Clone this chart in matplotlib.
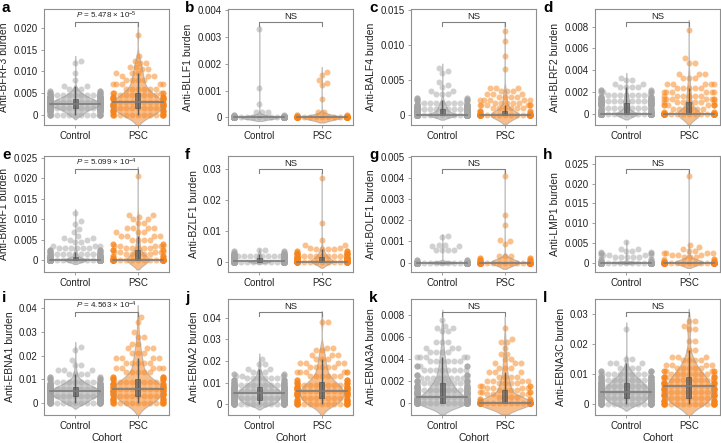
import warnings
import numpy as np
import pandas as pd
import matplotlib
matplotlib.use('Agg')
import matplotlib.pyplot as plt
import matplotlib.transforms as mtransforms
from matplotlib.patches import Rectangle
import seaborn as sns

warnings.filterwarnings('ignore')

plt.rcParams['font.family'] = ['Liberation Sans', 'DejaVu Sans']
plt.rcParams['mathtext.fontset'] = 'custom'
plt.rcParams['mathtext.rm'] = 'Liberation Sans'
plt.rcParams['mathtext.it'] = 'Liberation Sans:italic'

cohorts = ['Control', 'PSC']
antigens = ['BFRF3', 'BLLF1', 'BALF4', 'BLRF2', 'BMRF1', 'BZLF1',
            'BOLF1', 'LMP1', 'EBNA1', 'EBNA2', 'EBNA3A', 'EBNA3C']
panel_letters = ['a', 'b', 'c', 'd', 'e', 'f', 'g', 'h', 'i', 'j', 'k', 'l']
sig_labels = [r'$\it{P}$ = 5.478 × 10$^{-5}$', 'NS', 'NS', 'NS',
              r'$\it{P}$ = 5.099 × 10$^{-4}$', 'NS', 'NS', 'NS',
              r'$\it{P}$ = 4.563 × 10$^{-4}$', 'NS', 'NS', 'NS']

bfrf3_ctrl_vals = [0, 0.0005, 0.001, 0.0015, 0.002, 0.0025, 0.003, 0.0035, 0.004, 0.0045,
                   0.005, 0.0055, 0.006, 0.0065, 0.008, 0.0095, 0.012, 0.0125]
bfrf3_ctrl_n = [20, 10, 20, 30, 40, 45, 40, 30, 22, 15, 10, 5, 3, 2, 1, 1, 1, 1]
bfrf3_psc_vals = [0, 0.0005, 0.001, 0.0015, 0.002, 0.0025, 0.003, 0.0035, 0.004, 0.0045, 0.005,
                  0.006, 0.007, 0.008, 0.009, 0.0095, 0.0105, 0.011, 0.012, 0.0125, 0.0135, 0.0185]
bfrf3_psc_n = [16, 6, 7, 9, 10, 10, 10, 9, 8, 7, 6, 6, 5, 4, 3, 3, 2, 2, 2, 1, 1, 1]

bllf1_ctrl_vals = [0, 0.0001, 0.0002, 0.0005, 0.0011, 0.0033]
bllf1_ctrl_n = [288, 5, 3, 1, 1, 1]
bllf1_psc_vals = [0, 0.0001, 0.0002, 0.0007, 0.0012, 0.0013, 0.0014, 0.0016, 0.0017]
bllf1_psc_n = [148, 4, 2, 1, 1, 1, 1, 1, 1]

balf4_ctrl_vals = [0, 0.0003, 0.0006, 0.0009, 0.0012, 0.0015, 0.0018, 0.0021, 0.0025,
                   0.003, 0.0035, 0.004, 0.0043, 0.0047, 0.006, 0.0063, 0.0067]
balf4_ctrl_n = [160, 20, 25, 25, 22, 15, 10, 8, 5, 3, 2, 1, 1, 1, 1, 1, 1]
balf4_psc_vals = [0, 0.0003, 0.0006, 0.001, 0.0014, 0.0018, 0.0022, 0.0026, 0.003,
                  0.0034, 0.0038, 0.0065, 0.0084, 0.0105, 0.012]
balf4_psc_n = [112, 4, 5, 6, 6, 5, 5, 4, 3, 3, 3, 1, 1, 1, 1]

blrf2_ctrl_vals = [0, 0.0002, 0.0004, 0.0006, 0.0008, 0.001, 0.0012, 0.0014, 0.0016,
                   0.0018, 0.002, 0.0022, 0.0025, 0.0028, 0.0031, 0.0033]
blrf2_ctrl_n = [160, 12, 12, 14, 15, 18, 18, 14, 10, 8, 6, 5, 4, 2, 2, 1]
blrf2_psc_vals = [0, 0.0002, 0.0005, 0.0008, 0.0011, 0.0014, 0.0017, 0.002, 0.0024,
                  0.0028, 0.0033, 0.0037, 0.0047, 0.0051, 0.0077]
blrf2_psc_n = [97, 4, 6, 7, 7, 7, 6, 6, 5, 5, 3, 3, 2, 1, 1]

bmrf1_ctrl_vals = [0, 0.0004, 0.0008, 0.0012, 0.0016, 0.002, 0.0025, 0.003, 0.0035,
                   0.0045, 0.005, 0.0055, 0.0058, 0.0068, 0.0075, 0.0088, 0.0095, 0.0115]
bmrf1_ctrl_n = [200, 22, 18, 12, 10, 9, 8, 6, 3, 2, 2, 2, 1, 1, 1, 1, 1, 1]
bmrf1_psc_vals = [0, 0.0005, 0.001, 0.0015, 0.002, 0.0025, 0.003, 0.0035, 0.004, 0.005,
                  0.006, 0.0068, 0.0078, 0.009, 0.01, 0.0105, 0.011, 0.0205]
bmrf1_psc_n = [95, 4, 5, 5, 5, 5, 5, 5, 4, 4, 4, 3, 4, 2, 2, 1, 2, 1]

bzlf1_ctrl_vals = [0, 0.0003, 0.0006, 0.001, 0.0014, 0.0018, 0.0022, 0.0026, 0.003, 0.0034, 0.0037]
bzlf1_ctrl_n = [150, 25, 25, 25, 20, 18, 14, 10, 7, 4, 2]
bzlf1_psc_vals = [0, 0.0004, 0.0008, 0.0012, 0.0016, 0.002, 0.0025, 0.003, 0.0035,
                  0.004, 0.0045, 0.0055, 0.0072, 0.0127, 0.0272]
bzlf1_psc_n = [82, 10, 10, 10, 9, 9, 8, 6, 5, 4, 2, 2, 1, 1, 1]

bolf1_ctrl_vals = [0, 0.0001, 0.0006, 0.0008, 0.00085, 0.0012, 0.00125]
bolf1_ctrl_n = [285, 6, 4, 2, 2, 1, 1]
bolf1_psc_vals = [0, 0.0001, 0.0002, 0.0003, 0.00088, 0.001, 0.00105, 0.0018, 0.00225, 0.0041]
bolf1_psc_n = [140, 7, 4, 3, 1, 1, 1, 1, 1, 1]

lmp1_ctrl_vals = [0, 0.0005, 0.001, 0.0015, 0.0019, 0.0023, 0.0027, 0.003, 0.0035, 0.0052]
lmp1_ctrl_n = [270, 6, 4, 5, 5, 4, 2, 2, 2, 1]
lmp1_psc_vals = [0, 0.0005, 0.001, 0.0015, 0.002, 0.0025, 0.003, 0.0035, 0.004, 0.0045, 0.022]
lmp1_psc_n = [137, 4, 3, 3, 3, 4, 2, 1, 1, 1, 1]

ebna1_ctrl_vals = [0, 0.001, 0.002, 0.003, 0.004, 0.005, 0.006, 0.007, 0.008, 0.009,
                   0.01, 0.011, 0.0125, 0.014, 0.016, 0.018, 0.0225, 0.0235]
ebna1_ctrl_n = [25, 15, 25, 35, 40, 40, 35, 28, 20, 12, 8, 5, 4, 3, 2, 1, 1, 1]
ebna1_psc_vals = [0, 0.001, 0.002, 0.003, 0.004, 0.005, 0.006, 0.007, 0.008, 0.009, 0.01, 0.011,
                  0.013, 0.015, 0.017, 0.019, 0.021, 0.023, 0.025, 0.028, 0.03, 0.034, 0.036]
ebna1_psc_n = [16, 6, 9, 11, 12, 13, 14, 13, 10, 9, 8, 7, 5, 5, 5, 4, 3, 3, 2, 2, 1, 1, 1]

ebna2_ctrl_vals = [0, 0.001, 0.002, 0.003, 0.004, 0.005, 0.006, 0.007, 0.008, 0.009, 0.01,
                   0.011, 0.012, 0.013, 0.014, 0.015, 0.0165, 0.0185, 0.021]
ebna2_ctrl_n = [31, 20, 25, 28, 30, 30, 28, 25, 20, 17, 14, 10, 6, 4, 4, 3, 2, 2, 1]
ebna2_psc_vals = [0, 0.001, 0.002, 0.003, 0.004, 0.005, 0.006, 0.007, 0.008, 0.009, 0.01,
                  0.011, 0.013, 0.015, 0.017, 0.019, 0.021, 0.023, 0.025, 0.026, 0.038]
ebna2_psc_n = [19, 8, 9, 10, 11, 12, 13, 11, 10, 9, 8, 7, 6, 6, 5, 4, 3, 3, 2, 2, 2]

ebna3a_ctrl_vals = [0, 0.0002, 0.0004, 0.0006, 0.0008, 0.001, 0.0012, 0.0014, 0.0016, 0.0018,
                    0.002, 0.0023, 0.0026, 0.003, 0.0034, 0.0038, 0.0042, 0.0046, 0.005,
                    0.0055, 0.0065, 0.0068, 0.007, 0.0075]
ebna3a_ctrl_n = [91, 25, 20, 18, 16, 15, 14, 12, 11, 10, 9, 9, 8, 8, 7, 6, 5, 4, 3, 3, 2, 2, 1, 1]
ebna3a_psc_vals = [0, 0.0002, 0.0004, 0.0006, 0.0008, 0.001, 0.0012, 0.0014, 0.0016, 0.0018,
                   0.002, 0.0024, 0.0028, 0.0032, 0.0036, 0.004, 0.0045, 0.005, 0.0055,
                   0.0058, 0.0068]
ebna3a_psc_n = [98, 4, 4, 4, 4, 4, 4, 4, 4, 4, 4, 4, 3, 3, 3, 2, 2, 1, 2, 1, 1]

ebna3c_ctrl_vals = [0, 0.001, 0.002, 0.003, 0.004, 0.005, 0.006, 0.007, 0.008, 0.009, 0.01,
                    0.011, 0.012, 0.0135, 0.015, 0.025]
ebna3c_ctrl_n = [30, 25, 30, 35, 35, 32, 28, 24, 20, 14, 10, 7, 4, 3, 2, 1]
ebna3c_psc_vals = [0, 0.001, 0.002, 0.003, 0.004, 0.005, 0.006, 0.007, 0.008, 0.009, 0.01,
                   0.011, 0.012, 0.013, 0.0145, 0.0155, 0.018, 0.021, 0.025, 0.026, 0.0275]
ebna3c_psc_n = [20, 10, 11, 12, 13, 13, 12, 11, 10, 9, 8, 6, 5, 4, 4, 3, 2, 2, 2, 1, 2]

# y ticks per panel and decimals of the tick labels
yticks = [[0, 0.005, 0.010, 0.015, 0.020], [0, 0.001, 0.002, 0.003, 0.004],
          [0, 0.005, 0.010, 0.015], [0, 0.002, 0.004, 0.006, 0.008],
          [0, 0.005, 0.010, 0.015, 0.020, 0.025], [0, 0.01, 0.02, 0.03],
          [0, 0.001, 0.002, 0.003, 0.004, 0.005], [0, 0.005, 0.010, 0.015, 0.020, 0.025],
          [0, 0.01, 0.02, 0.03, 0.04], [0, 0.01, 0.02, 0.03, 0.04],
          [0, 0.002, 0.004, 0.006, 0.008], [0, 0.01, 0.02, 0.03]]
ytick_dec = [3, 3, 3, 3, 3, 2, 3, 3, 2, 2, 3, 2]
ylims = [(-0.0024, 0.0244), (-0.00028, 0.00405), (-0.0014, 0.0151), (-0.00098, 0.0096),
         (-0.0029, 0.0254), (-0.0033, 0.0343), (-0.00045, 0.00506), (-0.0024, 0.027),
         (-0.0049, 0.04375), (-0.0051, 0.0488), (-0.00106, 0.00943), (-0.0037, 0.035)]
# violin scaling per panel
violin_norm = ['area', 'width', 'width', 'width', 'width', 'width',
               'width', 'width', 'area', 'area', 'area', 'area']
violin_width = [0.8, 0.6, 0.45, 0.35, 0.35, 0.35, 0.45, 0.45, 0.8, 0.7, 0.85, 0.75]

ctrl_data = [(bfrf3_ctrl_vals, bfrf3_ctrl_n), (bllf1_ctrl_vals, bllf1_ctrl_n),
             (balf4_ctrl_vals, balf4_ctrl_n), (blrf2_ctrl_vals, blrf2_ctrl_n),
             (bmrf1_ctrl_vals, bmrf1_ctrl_n), (bzlf1_ctrl_vals, bzlf1_ctrl_n),
             (bolf1_ctrl_vals, bolf1_ctrl_n), (lmp1_ctrl_vals, lmp1_ctrl_n),
             (ebna1_ctrl_vals, ebna1_ctrl_n), (ebna2_ctrl_vals, ebna2_ctrl_n),
             (ebna3a_ctrl_vals, ebna3a_ctrl_n), (ebna3c_ctrl_vals, ebna3c_ctrl_n)]
psc_data = [(bfrf3_psc_vals, bfrf3_psc_n), (bllf1_psc_vals, bllf1_psc_n),
            (balf4_psc_vals, balf4_psc_n), (blrf2_psc_vals, blrf2_psc_n),
            (bmrf1_psc_vals, bmrf1_psc_n), (bzlf1_psc_vals, bzlf1_psc_n),
            (bolf1_psc_vals, bolf1_psc_n), (lmp1_psc_vals, lmp1_psc_n),
            (ebna1_psc_vals, ebna1_psc_n), (ebna2_psc_vals, ebna2_psc_n),
            (ebna3a_psc_vals, ebna3a_psc_n), (ebna3c_psc_vals, ebna3c_psc_n)]

point_colors = ['#a4a4a4', '#f7841a']
violin_colors = {'Control': '#a2a2a2', 'PSC': '#f28a2e'}
frame_color = '#8f8f8f'

W, H = 721, 443
fig = plt.figure(figsize=(W / 100, H / 100), dpi=100)

col_left = [44, 228, 411, 595]
col_w = 125
row_top = [9, 156, 299]
row_h = 116
letter_x = [2, 185, 369, 543]
dot_px = 6.0


def swarm_offsets(y_px, d, half_w):
    # simple beeswarm in pixel space; points that don't fit go to the edge
    order = np.argsort(y_px, kind='stable')
    px = np.zeros(len(y_px))
    py = np.zeros(len(y_px))
    out = np.zeros(len(y_px))
    n = 0
    for i in order:
        y = y_px[i]
        if n == 0:
            x = 0.0
        else:
            m = np.abs(py[:n] - y) < d
            nx = px[:n][m]
            ny = py[:n][m]
            if len(nx) == 0:
                x = 0.0
            else:
                dx = np.sqrt(np.maximum(d * d - (ny - y) ** 2, 0))
                cands = np.concatenate([[0.0], nx + dx, nx - dx])
                cands = cands[np.argsort(np.abs(cands), kind='stable')]
                dist2 = (cands[:, None] - nx[None, :]) ** 2 + (y - ny[None, :]) ** 2
                ok = np.all(dist2 >= d * d - 1e-6, axis=1)
                x = cands[np.argmax(ok)]
        px[n] = x
        py[n] = y
        out[i] = x
        n += 1
    return np.clip(out, -half_w, half_w)


def draw_box(ax, pos, d):
    q1, med, q3 = np.percentile(d, [25, 50, 75])
    iqr = q3 - q1
    lo = d[d >= q1 - 1.5 * iqr].min()
    hi = d[d <= q3 + 1.5 * iqr].max()
    ax.plot([pos, pos], [lo, hi], color='#5a5a5a', lw=1.0, zorder=4, solid_capstyle='butt')
    ax.add_patch(Rectangle((pos - 0.04, q1), 0.08, q3 - q1, facecolor='#5f5f5f',
                           edgecolor='#4f4f4f', lw=0.6, alpha=0.7, zorder=5))
    ax.plot([pos - 0.4, pos + 0.4], [med, med], color='#7c7c7c', lw=1.2, zorder=6)


for k in range(12):
    r, c = divmod(k, 4)
    ax = fig.add_axes([col_left[c] / W, 1 - (row_top[r] + row_h) / H, col_w / W, row_h / H])

    ctrl = np.repeat(ctrl_data[k][0], ctrl_data[k][1]).astype(float)
    psc = np.repeat(psc_data[k][0], psc_data[k][1]).astype(float)
    ymin, ymax = ylims[k]

    px_per_unit = col_w / 2.0
    for g, d in enumerate([ctrl, psc]):
        y_px = (d - ymin) / (ymax - ymin) * row_h
        offs = swarm_offsets(y_px, dot_px, 0.4 * px_per_unit)
        ax.scatter(g + offs / px_per_unit, d, s=(dot_px * 0.72) ** 2, color=point_colors[g],
                   alpha=0.5, linewidths=0, zorder=1)

    df = pd.DataFrame({'cohort': ['Control'] * len(ctrl) + ['PSC'] * len(psc),
                       'value': np.concatenate([ctrl, psc])})
    sns.violinplot(data=df, x='cohort', y='value', hue='cohort', order=cohorts,
                   hue_order=cohorts, palette=violin_colors, inner=None, linewidth=0.8,
                   linecolor='#9a9a9a', density_norm=violin_norm[k], width=violin_width[k],
                   saturation=1, alpha=0.55, legend=False, ax=ax)
    draw_box(ax, 0, ctrl)
    draw_box(ax, 1, psc)

    ax.set_xlim(-0.5, 1.5)
    ax.set_ylim(ymin, ymax)
    ax.set_yticks(yticks[k])
    ax.set_yticklabels(['0' if t == 0 else f'{t:.{ytick_dec[k]}f}' for t in yticks[k]])
    ax.set_xticks([0, 1])
    ax.set_xticklabels(cohorts)
    ax.tick_params(length=2.5, width=0.6, color=frame_color, labelsize=7,
                   labelcolor='#222222', pad=2)
    for s in ax.spines.values():
        s.set_color(frame_color)
        s.set_linewidth(0.8)
    ax.set_ylabel(f'Anti-{antigens[k]} burden', fontsize=7.5, color='#222222', labelpad=3)
    ax.set_xlabel('Cohort' if r == 2 else '', fontsize=7.5, color='#222222', labelpad=1)

    # significance bracket
    trans = mtransforms.blended_transform_factory(ax.transData, ax.transAxes)
    yb = 0.885
    ax.plot([0, 0, 1, 1], [yb - 0.03, yb, yb, yb - 0.03], transform=trans,
            color='#808080', lw=0.8, zorder=7)
    fs = 6.8 if sig_labels[k] == 'NS' else 5.8
    ax.text(0.5, yb + 0.015, sig_labels[k], transform=trans, ha='center', va='bottom',
            fontsize=fs, color='#222222')

    fig.text(letter_x[c] / W, 1 - (row_top[r] - 8) / H, panel_letters[k], fontsize=11,
             fontweight='bold', ha='left', va='top')

fig.savefig('out.png', dpi=100)
